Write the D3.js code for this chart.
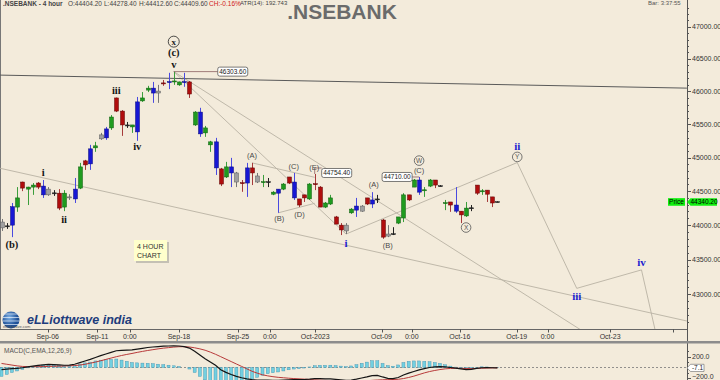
<!DOCTYPE html>
<html lang="en">
<head>
<meta charset="UTF-8">
<title>.NSEBANK - 4 hour</title>
<script src="https://cdn.jsdelivr.net/npm/d3@7"></script>
<style>
  body { margin: 0; background: #f3ebdb; }
  svg { display: block; font-family: 'Liberation Sans', Arial, sans-serif; }
</style>
</head>
<body>
<svg id="chart" width="720" height="380"></svg>
<script>
// 4 hour bars: [open, high, low, close]
const ohlc = [
  [44045,44090,43915,43960],[43990,44030,43945,43985],[44000,44325,43825,44270],[44265,44560,44195,44400],
  [44635,44640,44500,44545],[44530,44565,44295,44560],[44560,44620,44445,44590],[44620,44635,44530,44560],
  [44575,44665,44400,44445],[44530,44560,44430,44445],[44475,44515,44430,44470],[44470,44530,44220,44250],
  [44265,44515,44205,44470],[44415,44455,44370,44410],[44530,44695,44325,44385],[44545,44920,44530,44860],
  [44950,44965,44815,44890],[44905,45190,44815,45130],[45145,45235,45085,45175],[45280,45370,45265,45340],
  [45295,45460,45265,45430],[45445,45640,45415,45610],[45900,45905,45685,45700],[45700,45715,45325,45490],
  [45490,45535,45445,45485],[45460,45490,45370,45490],[45385,45915,45250,45840],[45855,45990,45840,45900],
  [46020,46085,45990,46050],[46050,46145,45825,45975],[45975,46100,45825,46005],[46130,46175,46085,46115],
  [46140,46285,46035,46150],[46145,46303.6,46100,46160],[46100,46150,46085,46145],[46140,46285,46070,46150],
  [46145,46160,45900,45960],[45490,45700,45475,45685],[45685,45750,45310,45355],[45370,45475,45310,45445],
  [45190,45250,45085,45235],[45235,45295,44740,44845],[44830,44845,44575,44605],[44710,44935,44695,44860],
  [44860,44995,44560,44770],[44770,44785,44560,44635],[44625,44665,44490,44615],[44620,44920,44415,44845],
  [44845,44920,44590,44770],[44725,44770,44620,44635],[44630,44740,44560,44640],[44640,44695,44560,44635],
  [44455,44500,44440,44485],[44470,44530,44180,44530],[44530,44620,44515,44605],[44710,44710,44605,44620],
  [44635,44770,44370,44400],[44385,44385,44265,44295],[44445,44445,44340,44400],[44385,44620,44370,44605],
  [44610,44754.4,44515,44600],[44560,44575,44265,44265],[44265,44340,44250,44325],[44310,44445,44295,44400],
  [44120,44135,44015,44015],[44000,44030,43855,43930],[43915,44030,43870,44000],[44180,44250,44165,44235],
  [44220,44400,44120,44280],[44280,44295,44195,44205],[44400,44400,44295,44310],[44310,44485,44250,44370],
  [44385,44445,44325,44380],[44075,44090,43800,43825],[43870,44000,43825,43840],[43875,43970,43855,43870],
  [44030,44120,44015,44120],[44105,44470,44045,44445],[44445,44445,44355,44370],[44560,44680,44560,44665],
  [44665,44710,44445,44485],[44510,44560,44415,44520],[44575,44680,44560,44665],[44665,44665,44545,44590],
  [44580,44590,44570,44575],[44320,44370,44220,44330],[44340,44340,44195,44295],[44295,44560,44180,44205],
  [44205,44205,44030,44150],[44135,44340,44120,44250],[44255,44295,44205,44250],[44590,44590,44445,44470],
  [44495,44530,44445,44505],[44515,44515,44340,44455],[44415,44415,44265,44325],[44345,44350,44335,44340]
];
// bar colouring class: g up, r down, b blue, k grey, d black doji
const kinds = 'kdbgrggrbkdrgkbgrbgkbgrrdgbggbkrbggbrgbggbrgbkrbrkgdgbgrbrrgrrggrrkgbkrbdrkdggrgbggrdgrbrgdrgrrd';

const macdLine = [
  -40,-30,-20,-15,-5,10,25,40,50,58,
  55,48,42,45,60,90,120,150,185,220,
  250,280,310,318,322,325,340,355,370,380,
  388,395,398,400,398,385,360,300,230,160,
  100,40,-40,-90,-130,-165,-190,-210,-225,-232,
  -235,-235,-238,-240,-235,-228,-225,-225,-222,-215,
  -205,-205,-210,-212,-220,-230,-238,-232,-215,-195,
  -175,-150,-145,-175,-200,-205,-185,-140,-105,-75,
  -45,-20,0,10,15,10,0,-10,-25,-40,
  -35,-15,-5,-3,-5,-7.1
];
const signalLine = [
  75,60,45,30,20,15,15,15,18,20,
  22,25,28,32,36,45,60,80,100,125,
  150,175,200,222,242,260,280,298,315,330,
  345,358,368,378,385,385,380,365,345,320,
  285,245,200,155,110,65,20,-25,-70,-105,
  -135,-155,-170,-182,-190,-198,-205,-210,-215,-222,
  -228,-233,-238,-242,-245,-248,-250,-252,-252,-250,
  -245,-238,-232,-228,-225,-222,-218,-205,-185,-160,
  -130,-100,-75,-55,-38,-25,-18,-15,-15,-18,
  -20,-18,-14,-10,-8,-6
];

const timeTicks = [8.85, 18.35, 24.6, 34, 45.3, 51.4, 60.1, 72.8, 78.6, 87.8, 98.7, 104.6, 116.6, 128.6];
const timeLabels = ['Sep-06','Sep-11','0:00','Sep-18','Sep-25','0:00','Oct-2023','Oct-09','0:00','Oct-16','Oct-19','0:00','Oct-23',''];
const priceTicks = [43000, 43500, 44000, 44500, 45000, 45500, 46000, 46500, 47000];
const macdTicks = [200, -200];

// trend lines as [bar, price] pairs
const channelTop = [[-0.3, 46250], [131.3, 46050]];
const trendLines = [
  [[-0.3, 44840], [131.3, 42620]],
  [[33, 46303.6], [113, 42400]],
  [[33, 46303.6], [66, 43870]],
  [[48, 44920], [60, 44705]],
  [[53, 44180], [60, 44320]],
  [[66, 43870], [98.8, 44925]],
  [[98.8, 44925], [110.2, 43085]],
  [[110.2, 43085], [122.6, 43350]],
  [[122.6, 43350], [125.5, 42400]]
];

// wave labels: bar, price, text, kind
const waveLabels = [
  [2, 43725, '(b)', 'minor'], [8, 44775, 'i', 'minor'], [12, 44085, 'ii', 'minor'],
  [22, 46022, 'iii', 'minor'], [26, 45175, 'iv', 'minor'], [33, 46421, 'v', 'minor'],
  [33, 46602, '(c)', 'minor'], [33, 46767, 'x', 'ring'],
  [48, 45028, '(A)', 'sub'], [53.2, 44094, '(B)', 'sub'], [56, 44870, '(C)', 'sub'],
  [57.1, 44159, '(D)', 'sub'], [59.9, 44860, '(E)', 'sub'],
  [66, 43744, 'i', 'blue'], [71.3, 44606, '(A)', 'sub'], [74, 43711, '(B)', 'sub'],
  [80, 44954, 'W', 'circle'], [80, 44815, '(C)', 'sub'], [89, 43965, 'X', 'circle'],
  [98.8, 45164, 'ii', 'blue'], [98.8, 45009, 'Y', 'circle'],
  [110.2, 42976, 'iii', 'blue'], [122.6, 43460, 'iv', 'blue']
];
// price tags on pivots: bar, price, side
const priceTags = [[33, 46303.6, 'right'], [60, 44754.4, 'up'], [80, 44710, 'left']];
const lastPrice = 44340.2;
const lastMacd = -7.1;

const svg = d3.select('#chart');
const plotR = 687, plotB = 329;
const x = d3.scaleLinear().domain([0, 95]).range([1.5, 497.4]);
const y = d3.scaleLog().domain([47000, 43000]).range([26.7, 294.3]);
const ym = d3.scaleLinear().domain([200, -200]).range([356.7, 378.3]);
const yh = d3.scaleLinear().domain([140, -140]).range([356.7, 378.3]);

svg.append('rect').attr('width', 720).attr('height', 380).attr('fill', '#f3ebdb');

const defs = svg.append('defs');
defs.append('clipPath').attr('id', 'plot').append('rect').attr('x', 0).attr('y', 0).attr('width', plotR).attr('height', plotB);
defs.append('clipPath').attr('id', 'macd').append('rect').attr('x', 0).attr('y', 343).attr('width', plotR).attr('height', 37);
const grad = defs.append('radialGradient').attr('id', 'globe').attr('cx', '40%').attr('cy', '35%');
grad.append('stop').attr('offset', '0%').attr('stop-color', '#7fb2e6');
grad.append('stop').attr('offset', '100%').attr('stop-color', '#1d4f96');

// header
svg.append('text').attr('x', 3).attr('y', 5.5).attr('font-size', 6.5).attr('font-weight', 'bold').attr('fill', '#444').text('.NSEBANK - 4 hour');
const hdr = [['O:44404.20', 68], ['L:44278.40', 104], ['H:44412.60', 139], ['C:44409.60', 174]];
hdr.forEach(h => svg.append('text').attr('x', h[1]).attr('y', 5.5).attr('font-size', 6.5).attr('fill', '#444').text(h[0]));
svg.append('text').attr('x', 209).attr('y', 5.5).attr('font-size', 6.5).attr('fill', '#d02020').text('CH:-0.16%');
svg.append('text').attr('x', 240).attr('y', 5).attr('font-size', 6).attr('fill', '#444').text('ATR(14): 192.743');
svg.append('text').attr('x', 648).attr('y', 5).attr('font-size', 6).attr('fill', '#555').text('Bar: 3:37:55');
svg.append('text').attr('x', 342).attr('y', 19).attr('text-anchor', 'middle').attr('font-size', 21)
  .attr('font-weight', 'bold').attr('fill', '#6b6b6b').text('.NSEBANK');

// frame
svg.append('line').attr('x1', 0.5).attr('x2', 0.5).attr('y1', 0).attr('y2', plotB).attr('stroke', '#777');
svg.append('line').attr('x1', 0).attr('x2', plotR).attr('y1', plotB + 0.5).attr('y2', plotB + 0.5).attr('stroke', '#666');
svg.append('line').attr('x1', plotR + 0.5).attr('x2', plotR + 0.5).attr('y1', 0).attr('y2', 380).attr('stroke', '#555');
svg.append('rect').attr('x', 0).attr('y', 341).attr('width', 720).attr('height', 2.5).attr('fill', '#8c8c8c');

// price axis
const yAxis = svg.append('g').attr('font-size', 7).attr('fill', '#333');
d3.range(42500, 47400, 100).forEach(v => {
  const major = v % 500 === 0;
  if (y(v) < 0 || y(v) > plotB) return;
  yAxis.append('line').attr('x1', plotR).attr('x2', plotR + (major ? 4 : 2))
    .attr('y1', Math.round(y(v)) + 0.5).attr('y2', Math.round(y(v)) + 0.5).attr('stroke', '#555');
});
priceTicks.forEach(v => {
  yAxis.append('text').attr('x', 692).attr('y', y(v) + 2.5).text(d3.format('.2f')(v));
});

// time axis
const xAxis = svg.append('g').attr('font-size', 7).attr('fill', '#333');
timeTicks.forEach((t, i) => {
  xAxis.append('line').attr('x1', Math.round(x(t)) + 0.5).attr('x2', Math.round(x(t)) + 0.5)
    .attr('y1', plotB).attr('y2', plotB + 3.5).attr('stroke', '#555');
  xAxis.append('text').attr('x', x(t)).attr('y', 339).attr('text-anchor', 'middle').text(timeLabels[i]);
});

// logo
const logo = svg.append('g');
logo.append('circle').attr('cx', 11).attr('cy', 320).attr('r', 8.5).attr('fill', 'url(#globe)');
[314, 317.5, 321, 324.5].forEach(v => logo.append('line').attr('x1', 3).attr('x2', 19.5).attr('y1', v).attr('y2', v)
  .attr('stroke', '#e8f0fa').attr('stroke-width', 0.7));
logo.append('text').attr('x', 3).attr('y', 327.5).attr('font-size', 4).attr('fill', '#555').text('elliottwave.com');
logo.append('text').attr('x', 27).attr('y', 324).attr('font-size', 12.5).attr('font-weight', 'bold')
  .attr('font-style', 'italic').attr('fill', '#1d3c7c').text('eLLiottwave india');

// 4 hour note
svg.append('rect').attr('x', 136).attr('y', 242).attr('width', 33).attr('height', 21).attr('fill', '#c4c0b4');
svg.append('rect').attr('x', 134).attr('y', 240).attr('width', 33).attr('height', 21).attr('fill', '#ffffcc');
svg.append('text').attr('x', 137).attr('y', 249).attr('font-size', 7).attr('fill', '#333').text('4 HOUR');
svg.append('text').attr('x', 137).attr('y', 258).attr('font-size', 7).attr('fill', '#333').text('CHART');

// trend lines
const plot = svg.append('g').attr('clip-path', 'url(#plot)');
const line = d3.line().x(d => x(d[0])).y(d => y(d[1]));
plot.selectAll('path.trend').data(trendLines).enter().append('path').attr('class', 'trend')
  .attr('d', line).attr('fill', 'none').attr('stroke', '#b9b2a4').attr('stroke-width', 0.9);
plot.append('path').attr('d', line(channelTop)).attr('fill', 'none').attr('stroke', '#5a5a5a').attr('stroke-width', 1);

// candles
const body = { g: '#1f9b1f', r: '#b00d0d', b: '#1717d4', k: '#a0a0a0', d: '#222' };
const edge = { g: '#0e5e0e', r: '#5e0606', b: '#0a0a7a', k: '#5a5a5a', d: '#222' };
const wick = { g: '#3b9e3b', r: '#a63a3a', b: '#4a4ae0', k: '#777', d: '#222' };
const candles = plot.selectAll('g.candle').data(ohlc).enter().append('g').attr('class', 'candle');
candles.append('line')
  .attr('x1', (d, i) => Math.round(x(i)) + 0.5).attr('x2', (d, i) => Math.round(x(i)) + 0.5)
  .attr('y1', d => y(d[1])).attr('y2', d => y(d[2]))
  .attr('stroke', (d, i) => wick[kinds[i]]).attr('stroke-width', 1);
candles.append('rect')
  .attr('x', (d, i) => Math.round(x(i)) - 1.5).attr('width', 4)
  .attr('y', d => y(Math.max(d[0], d[3])))
  .attr('height', d => Math.max(1, y(Math.min(d[0], d[3])) - y(Math.max(d[0], d[3]))))
  .attr('fill', (d, i) => body[kinds[i]]).attr('stroke', (d, i) => edge[kinds[i]]).attr('stroke-width', 0.5);

// price tags
priceTags.forEach(t => {
  const cx = x(t[0]), cy = y(t[1]);
  let bx, by, pts;
  if (t[2] === 'right') { bx = cx + 44; by = cy; pts = [[cx, cy], [bx, cy]]; }
  else if (t[2] === 'up') { bx = cx + 7; by = cy - 1; pts = [[cx, cy], [cx, cy - 6], [bx, cy - 6]]; }
  else { bx = cx - 37; by = cy; pts = [[bx + 30, cy], [cx, cy]]; }
  svg.append('path').attr('d', d3.line()(pts)).attr('fill', 'none').attr('stroke', '#8a6060').attr('stroke-width', 0.8);
  svg.append('rect').attr('x', bx).attr('y', by - 4.5).attr('width', 30).attr('height', 9).attr('rx', 2)
    .attr('fill', '#fff').attr('stroke', '#444').attr('stroke-width', 0.7);
  svg.append('text').attr('x', bx + 15).attr('y', by + 2.4).attr('text-anchor', 'middle')
    .attr('font-size', 6.5).attr('fill', '#222').text(d3.format('.2f')(t[1]));
});

// wave labels
const labels = svg.append('g');
waveLabels.forEach(l => {
  const lx = x(l[0]), ly = y(l[1]);
  if (l[3] === 'minor') {
    labels.append('text').attr('x', lx).attr('y', ly).attr('dy', '0.35em').attr('text-anchor', 'middle')
      .attr('font-family', "'Liberation Serif', serif").attr('font-weight', 'bold').attr('font-size', 10.5)
      .attr('fill', '#151515').text(l[2]);
  } else if (l[3] === 'blue') {
    labels.append('text').attr('x', lx).attr('y', ly).attr('dy', '0.35em').attr('text-anchor', 'middle')
      .attr('font-family', "'Liberation Serif', serif").attr('font-weight', 'bold').attr('font-size', 11)
      .attr('fill', '#1c1cd0').text(l[2]);
  } else if (l[3] === 'sub') {
    labels.append('text').attr('x', lx).attr('y', ly).attr('dy', '0.35em').attr('text-anchor', 'middle')
      .attr('font-size', 7.5).attr('fill', '#484848').text(l[2]);
  } else {
    const ring = l[3] === 'ring';
    labels.append('circle').attr('cx', lx).attr('cy', ly).attr('r', ring ? 5.5 : 4.8)
      .attr('fill', 'none').attr('stroke', ring ? '#222' : '#555').attr('stroke-width', 0.8);
    labels.append('text').attr('x', lx).attr('y', ly).attr('dy', '0.35em').attr('text-anchor', 'middle')
      .attr('font-family', ring ? "'Liberation Serif', serif" : "'Liberation Sans', sans-serif")
      .attr('font-weight', ring ? 'bold' : 'normal')
      .attr('font-size', ring ? 9 : 6.5).attr('fill', ring ? '#222' : '#555').text(l[2]);
  }
});

// last price tag
svg.append('rect').attr('x', 668).attr('y', y(lastPrice) - 3.8).attr('width', 17).attr('height', 7.6).attr('fill', '#10ee10');
svg.append('text').attr('x', 676.5).attr('y', y(lastPrice) + 2.4).attr('text-anchor', 'middle').attr('font-size', 6.5).text('Price');
const lp = y(lastPrice);
svg.append('path').attr('d', d3.line()([[687, lp], [690.5, lp - 3.8], [717, lp - 3.8], [717, lp + 3.8], [690.5, lp + 3.8]]) + 'Z')
  .attr('fill', '#10ee10');
svg.append('text').attr('x', 704).attr('y', lp + 2.4).attr('text-anchor', 'middle').attr('font-size', 6.5).text(d3.format('.2f')(lastPrice));

// MACD panel
svg.append('text').attr('x', 4).attr('y', 353).attr('font-size', 6.5).attr('fill', '#555').text('MACD(C,EMA,12,26,9)');
const macdG = svg.append('g').attr('clip-path', 'url(#macd)');
macdG.append('line').attr('x1', 0).attr('x2', plotR).attr('y1', ym(0)).attr('y2', ym(0))
  .attr('stroke', '#777').attr('stroke-dasharray', '2,2').attr('stroke-width', 0.8);
macdG.selectAll('rect.hist').data(macdLine).enter().append('rect').attr('class', 'hist')
  .attr('x', (d, i) => x(i) - 1.5).attr('width', 3)
  .attr('y', (d, i) => Math.min(yh(d - signalLine[i]), yh(0)))
  .attr('height', (d, i) => Math.abs(yh(d - signalLine[i]) - yh(0)))
  .attr('fill', '#72d0e0').attr('stroke', '#3f8fb0').attr('stroke-width', 0.4);
const mline = d3.line().x((d, i) => x(i));
macdG.append('path').attr('d', mline.y(d => ym(d))(signalLine)).attr('fill', 'none').attr('stroke', '#b83a3a').attr('stroke-width', 1);
macdG.append('path').attr('d', mline.y(d => ym(d))(macdLine)).attr('fill', 'none').attr('stroke', '#151515').attr('stroke-width', 1.2);

const mAxis = svg.append('g').attr('font-size', 7).attr('fill', '#333');
[300, 200, 100, 0, -100, -200].forEach(v => {
  mAxis.append('line').attr('x1', plotR).attr('x2', plotR + (v % 200 === 0 ? 4 : 2))
    .attr('y1', Math.round(ym(v)) + 0.5).attr('y2', Math.round(ym(v)) + 0.5).attr('stroke', '#555');
});
macdTicks.forEach(v => mAxis.append('text').attr('x', 692).attr('y', Math.min(ym(v) + 2.5, 379)).text(d3.format('.1f')(v)));
const lm = ym(lastMacd);
svg.append('path').attr('d', d3.line()([[687, lm], [690.5, lm - 3.6], [704, lm - 3.6], [704, lm + 3.6], [690.5, lm + 3.6]]) + 'Z')
  .attr('fill', '#fff').attr('stroke', '#666').attr('stroke-width', 0.6);
svg.append('text').attr('x', 697.5).attr('y', lm + 2.3).attr('text-anchor', 'middle').attr('font-size', 6.5).attr('fill', '#222').text(lastMacd);
</script>
</body>
</html>
